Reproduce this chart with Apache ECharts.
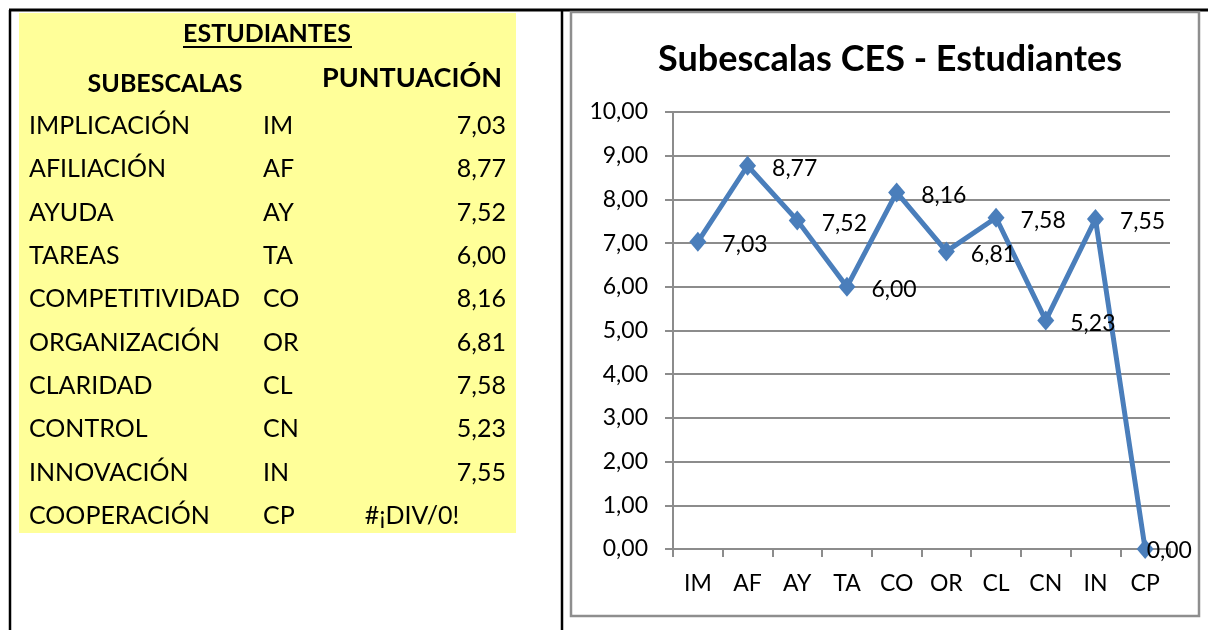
<!DOCTYPE html>
<html>
<head>
<meta charset="utf-8">
<title>Subescalas CES - Estudiantes</title>
<script src="https://cdn.jsdelivr.net/npm/echarts@6/dist/echarts.min.js"></script>
<style>
  html, body { margin: 0; padding: 0; background: #fff; }
  #chart { width: 1208px; height: 630px; }
</style>
</head>
<body>
<div id="chart"></div>
<script>
// datos de la tabla y del gráfico
const subescalas = ['IMPLICACIÓN', 'AFILIACIÓN', 'AYUDA', 'TAREAS', 'COMPETITIVIDAD',
  'ORGANIZACIÓN', 'CLARIDAD', 'CONTROL', 'INNOVACIÓN', 'COOPERACIÓN'];
const codigos = ['IM', 'AF', 'AY', 'TA', 'CO', 'OR', 'CL', 'CN', 'IN', 'CP'];
const puntuacion = [7.03, 8.77, 7.52, 6.00, 8.16, 6.81, 7.58, 5.23, 7.55, 0];
// la última celda de la tabla da error, el gráfico la pinta como 0
const celdasTabla = ['7,03', '8,77', '7,52', '6,00', '8,16', '6,81', '7,58', '5,23', '7,55', '#¡DIV/0!'];
const yTicks = [0, 1, 2, 3, 4, 5, 6, 7, 8, 9, 10];

const FONT = 'Lato, "Open Sans", sans-serif';
const fmt = v => v.toFixed(2).replace('.', ',');

// tabla de la izquierda
let tabla = [
  { type: 'rect', shape: { x: 19, y: 13, width: 497, height: 520 }, style: { fill: '#ffff99' } },
  { type: 'text', x: 267, y: 34, style: { text: 'ESTUDIANTES', font: 'bold 25px ' + FONT, fill: '#000', textAlign: 'center', textVerticalAlign: 'middle' } },
  { type: 'line', shape: { x1: 183, y1: 47, x2: 352, y2: 47 }, style: { stroke: '#000', lineWidth: 2 } },
  { type: 'text', x: 165, y: 84, style: { text: 'SUBESCALAS', font: 'bold 25px ' + FONT, fill: '#000', textAlign: 'center', textVerticalAlign: 'middle' } },
  { type: 'text', x: 502, y: 78, style: { text: 'PUNTUACIÓN', font: 'bold 27px ' + FONT, fill: '#000', textAlign: 'right', textVerticalAlign: 'middle' } }
];
subescalas.forEach(function (name, i) {
  let y = 126 + i * 43.33;
  let celda = celdasTabla[i];
  let esError = celda.charAt(0) === '#';
  tabla.push(
    { type: 'text', x: 29, y: y, style: { text: name, font: '25px ' + FONT, fill: '#000', textVerticalAlign: 'middle' } },
    { type: 'text', x: 263, y: y, style: { text: codigos[i], font: '25px ' + FONT, fill: '#000', textVerticalAlign: 'middle' } },
    { type: 'text', x: esError ? 412 : 506, y: y, style: { text: celda, font: '25px ' + FONT, fill: '#000', textAlign: esError ? 'center' : 'right', textVerticalAlign: 'middle' } }
  );
});

// bordes
let bordes = [
  { type: 'line', shape: { x1: 9, y1: 10, x2: 1208, y2: 10 }, style: { stroke: '#000', lineWidth: 3 } },
  { type: 'line', shape: { x1: 10, y1: 10, x2: 10, y2: 630 }, style: { stroke: '#000', lineWidth: 2.5 } },
  { type: 'line', shape: { x1: 562, y1: 10, x2: 562, y2: 630 }, style: { stroke: '#000', lineWidth: 2.5 } },
  { type: 'rect', shape: { x: 571, y: 12, width: 628, height: 604 }, style: { fill: 'none', stroke: '#8e8e8e', lineWidth: 2.5 } }
];

let chart = echarts.init(document.getElementById('chart'));
chart.setOption({
  backgroundColor: '#fff',
  animation: false,
  title: {
    text: 'Subescalas CES - Estudiantes',
    left: 885,
    top: 36,
    textAlign: 'center',
    textStyle: { fontFamily: FONT, fontWeight: 'bold', fontSize: 36, color: '#000' }
  },
  graphic: bordes.concat(tabla),
  grid: { left: 673, right: 38, top: 112, bottom: 81 },
  xAxis: {
    type: 'category',
    data: codigos,
    boundaryGap: true,
    axisLine: { lineStyle: { color: '#8c8c8c', width: 2 } },
    axisTick: { show: true, length: 8, interval: 0, lineStyle: { color: '#8c8c8c', width: 2 } },
    axisLabel: { interval: 0, margin: 23, fontFamily: FONT, fontSize: 23, color: '#000' }
  },
  yAxis: {
    type: 'value',
    min: yTicks[0],
    max: yTicks[yTicks.length - 1],
    interval: 1,
    axisLine: { show: true, lineStyle: { color: '#8c8c8c', width: 2 } },
    axisTick: { show: true, length: 8, lineStyle: { color: '#8c8c8c', width: 2 } },
    splitLine: { lineStyle: { color: '#8c8c8c', width: 2 } },
    axisLabel: { margin: 25, fontFamily: FONT, fontSize: 23, color: '#000', formatter: fmt }
  },
  series: [{
    type: 'line',
    data: puntuacion.map(function (v, i) {
      if (i === puntuacion.length - 1) {
        return { value: v, label: { position: 'insideLeft', offset: [-6, 2] } };
      }
      return v;
    }),
    symbol: 'diamond',
    symbolSize: [17, 20],
    itemStyle: { color: '#4a7ebb' },
    lineStyle: { color: '#4a7ebb', width: 5 },
    label: {
      show: true,
      position: 'right',
      distance: 16,
      offset: [0, 3],
      fontFamily: FONT,
      fontSize: 23,
      color: '#000',
      formatter: function (p) { return fmt(p.value); }
    }
  }]
});
</script>
</body>
</html>
